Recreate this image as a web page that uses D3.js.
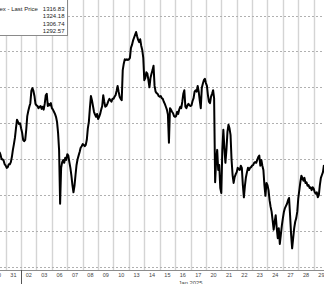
<!DOCTYPE html>
<html>
<head>
<meta charset="utf-8">
<script src="https://cdn.jsdelivr.net/npm/d3@7/dist/d3.min.js"></script>
<style>
  body { margin: 0; background: #fff; }
  svg { display: block; }
</style>
</head>
<body>
<div id="chart"></div>
<script>
// trading days shown on the axis (first and last are cut by the frame)
const dayLabels = ["30", "31", "02", "03", "06", "07", "08", "09", "10", "13", "14",
                   "15", "16", "17", "20", "21", "22", "23", "24", "27", "28", "29"];

// intraday prices, 15 evenly spaced samples per session (null = outside the frame)
const sessionPrices = [
  [null, null, null, null, null, null, null, null, null, 1306.0, 1305.6, 1305.0, 1305.0, 1304.8, 1304.3],
  [1304.1, 1303.8, 1303.9, 1304.3, 1304.3, 1304.6, 1305.3, 1306.3, 1307.1, 1308.0, 1309.3, 1310.5, 1310.2, 1309.9, 1310.0],
  [1309.3, 1308.7, 1307.7, 1307.5, 1307.7, 1309.1, 1311.0, 1311.7, 1312.3, 1312.8, 1314.5, 1314.9, 1314.5, 1313.8, 1312.7],
  [1312.5, 1312.4, 1312.1, 1312.3, 1312.4, 1312.0, 1312.3, 1311.9, 1312.7, 1313.9, 1314.1, 1312.4, 1312.7, 1312.5, 1312.8],
  [1312.1, 1311.9, 1311.6, 1311.3, 1310.9, 1310.2, 1308.7, 1306.3, 1298.8, 1303.8, 1304.6, 1304.9, 1304.5, 1305.2, 1304.9],
  [1305.7, 1305.5, 1304.6, 1303.8, 1302.7, 1301.4, 1300.4, 1301.3, 1302.8, 1304.2, 1305.0, 1305.5, 1306.0, 1306.6, 1306.8],
  [1307.1, 1307.0, 1306.8, 1307.0, 1307.7, 1309.3, 1310.2, 1312.1, 1313.8, 1313.2, 1312.4, 1311.6, 1311.2, 1310.9, 1311.3],
  [1310.6, 1310.9, 1311.3, 1311.9, 1312.4, 1313.9, 1313.0, 1312.3, 1312.4, 1312.7, 1313.1, 1313.4, 1313.2, 1313.0, 1313.4],
  [1313.4, 1313.7, 1313.9, 1314.5, 1315.2, 1314.4, 1313.7, 1313.4, 1313.2, 1317.4, 1318.3, 1318.9, 1318.8, 1318.9, 1318.8],
  [1318.9, 1319.1, 1320.5, 1320.9, 1321.5, 1321.9, 1322.3, 1322.7, 1322.1, 1321.6, 1321.3, 1321.7, 1320.8, 1320.2, 1319.1],
  [1316.0, 1316.3, 1317.1, 1316.9, 1316.0, 1315.0, 1316.3, 1316.9, 1317.4, 1318.0, 1315.2, 1314.4, 1314.2, 1314.1, 1313.8],
  [1313.7, 1313.8, 1313.5, 1313.4, 1313.0, 1312.7, 1312.3, 1311.9, 1311.2, 1307.3, 1312.1, 1311.9, 1311.6, 1311.4, 1311.0],
  [1310.9, 1311.0, 1311.6, 1311.3, 1311.9, 1312.3, 1312.1, 1313.0, 1314.1, 1314.6, 1312.3, 1312.1, 1312.5, 1312.7, 1312.5],
  [1312.4, 1312.5, 1313.1, 1313.5, 1314.4, 1314.6, 1314.4, 1315.2, 1314.4, 1313.2, 1312.1, 1314.9, 1315.5, 1316.0, 1316.2],
  [1315.6, 1315.2, 1313.9, 1313.0, 1312.8, 1313.7, 1314.1, 1314.6, 1313.5, 1301.8, 1304.9, 1306.3, 1303.5, 1304.2, 1301.0],
  [1300.3, 1306.3, 1309.1, 1306.6, 1304.5, 1306.3, 1308.8, 1309.8, 1309.3, 1308.4, 1304.9, 1302.8, 1301.7, 1302.5, 1302.9],
  [1303.2, 1303.8, 1303.6, 1303.5, 1304.1, 1303.8, 1301.4, 1299.7, 1301.3, 1302.5, 1303.2, 1303.8, 1303.5, 1303.8, 1303.9],
  [1304.1, 1304.2, 1304.5, 1304.6, 1304.5, 1304.9, 1305.3, 1305.5, 1304.1, 1304.9, 1304.1, 1303.5, 1301.4, 1299.9, 1301.7],
  [1301.4, 1300.7, 1299.3, 1298.4, 1297.7, 1296.5, 1295.2, 1296.3, 1297.2, 1295.4, 1294.0, 1295.4, 1293.2, 1294.5, 1295.8],
  [1296.8, 1297.7, 1298.2, 1298.5, 1298.8, 1299.3, 1299.6, 1297.2, 1294.5, 1292.6, 1294.0, 1295.4, 1296.3, 1296.8, 1297.7],
  [1299.6, 1300.7, 1301.8, 1302.7, 1302.4, 1302.0, 1302.4, 1301.7, 1301.8, 1301.3, 1301.4, 1301.0, 1301.1, 1300.7, 1301.1],
  [1300.9, 1300.4, 1300.2, 1300.4, 1299.7, 1300.0, 1301.4, 1302.4, 1302.8, 1303.2, 1304.2]
];

const gridPrices = [1290, 1295, 1300, 1305, 1310, 1315, 1320, 1325];
const legendLabel = "ex - Last Price";
const legendValues = ["1316.83", "1324.18", "1306.74", "1292.57"];
const monthLabel = "Jan 2025";
const yearBreakDay = 2;   // first session of the new year
const monthLabelDay = 13; // the month label sits on the 16/17 boundary

const samplesPerDay = 15;
const width = 324;
const height = 284;
const axisY = 270;

// flatten the sessions into (time, price) points, time in trading-day units
const points = [];
sessionPrices.forEach((day, i) => {
  day.forEach((v, j) => {
    if (v !== null) points.push({ t: i + j / samplesPerDay, v: v });
  });
});

const x = d3.scaleLinear().domain([0, dayLabels.length - 1]).range([-9.7, 313.7]);
const y = d3.scaleLinear().domain([1290, 1325]).range([267, 15.5]);

const svg = d3.select("#chart")
  .append("svg")
  .attr("width", width)
  .attr("height", height);

// vertical day separators
svg.append("g")
  .selectAll("line")
  .data(d3.range(dayLabels.length))
  .enter()
  .append("line")
  .attr("x1", d => Math.round(x(d)) + 0.5)
  .attr("x2", d => Math.round(x(d)) + 0.5)
  .attr("y1", 0)
  .attr("y2", axisY)
  .style("stroke", "#d4d4d4")
  .style("stroke-width", 1.4);

// dotted price grid
svg.append("g")
  .selectAll("line")
  .data(gridPrices)
  .enter()
  .append("line")
  .attr("x1", 0)
  .attr("x2", width)
  .attr("y1", d => Math.round(y(d)) + 0.5)
  .attr("y2", d => Math.round(y(d)) + 0.5)
  .style("stroke", "#b0b0b0")
  .style("stroke-dasharray", "2,2");

// price line
const line = d3.line()
  .x(d => x(d.t))
  .y(d => y(d.v));

svg.append("path")
  .datum(points)
  .attr("d", line)
  .style("fill", "none")
  .style("stroke", "#000")
  .style("stroke-width", 2)
  .style("stroke-linejoin", "round");

// bottom axis
svg.append("line")
  .attr("x1", 0).attr("x2", width)
  .attr("y1", axisY + 0.5).attr("y2", axisY + 0.5)
  .style("stroke", "#8c8c8c");

svg.append("line")
  .attr("x1", Math.round(x(yearBreakDay)) + 0.5)
  .attr("x2", Math.round(x(yearBreakDay)) + 0.5)
  .attr("y1", axisY)
  .attr("y2", height)
  .style("stroke", "#555");

svg.append("g")
  .selectAll("text")
  .data(dayLabels)
  .enter()
  .append("text")
  .attr("x", (d, i) => x(i + 0.5))
  .attr("y", 277)
  .attr("text-anchor", "middle")
  .style("font-family", "Liberation Sans, Arial, sans-serif")
  .style("font-size", "5.5px")
  .style("fill", "#444")
  .text(d => d);

svg.append("text")
  .attr("x", x(monthLabelDay))
  .attr("y", 285)
  .attr("text-anchor", "middle")
  .style("font-family", "Liberation Sans, Arial, sans-serif")
  .style("font-size", "5.8px")
  .style("fill", "#444")
  .text(monthLabel);

// legend box (cut by the top-left corner of the frame)
const legend = svg.append("g");
legend.append("rect")
  .attr("x", -2).attr("y", -2)
  .attr("width", 69.5).attr("height", 37.5)
  .style("fill", "#fff")
  .style("stroke", "#8a8a8a");

legend.append("text")
  .attr("x", -0.5)
  .attr("y", 10.8)
  .style("font-family", "Liberation Sans, Arial, sans-serif")
  .style("font-size", "6px")
  .style("fill", "#222")
  .text(legendLabel);

legend.selectAll("text.val")
  .data(legendValues)
  .enter()
  .append("text")
  .attr("class", "val")
  .attr("x", 64.5)
  .attr("y", (d, i) => 10.8 + i * 7.4)
  .attr("text-anchor", "end")
  .style("font-family", "Liberation Sans, Arial, sans-serif")
  .style("font-size", "6px")
  .style("fill", "#222")
  .text(d => d);
</script>
</body>
</html>
